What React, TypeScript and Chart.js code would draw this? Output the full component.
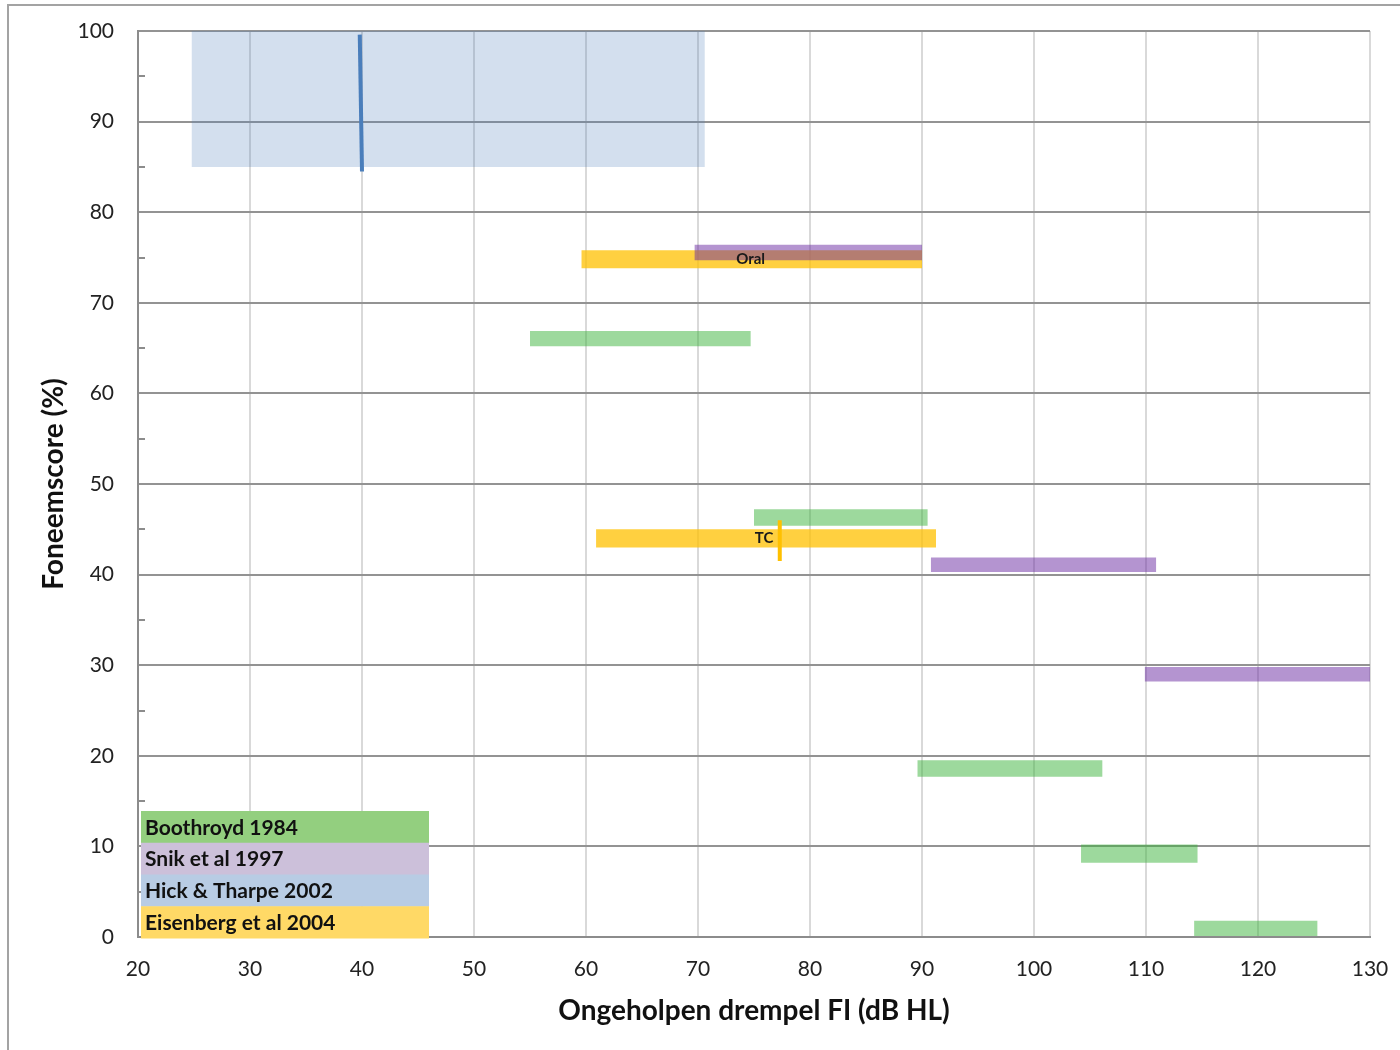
import React, { useEffect, useRef } from 'react';
import { Chart, registerables } from 'chart.js';

Chart.register(...registerables);

const FONT = 'Lato, "Open Sans", "DejaVu Sans", sans-serif';

// ---- legend / studies ----
const studies = ['Boothroyd 1984', 'Snik et al 1997', 'Hick & Tharpe 2002', 'Eisenberg et al 2004'];
const legendColors = ['#93cf7f', '#ccc0da', '#b8cce4', '#ffd966'];

// ---- axes ----
const xTicks = [20, 30, 40, 50, 60, 70, 80, 90, 100, 110, 120, 130];
const yTicks = [0, 10, 20, 30, 40, 50, 60, 70, 80, 90, 100];
const yMinorTicks = [5, 15, 25, 35, 45, 55, 65, 75, 85, 95];

// ---- Boothroyd 1984 (green ranges) ----
const boothroydFrom = [55.0, 75.0, 89.6, 104.2, 114.3];
const boothroydTo = [74.7, 90.5, 106.1, 114.6, 125.3];
const boothroydLow = [65.2, 45.4, 17.7, 8.2, 0.1];
const boothroydHigh = [66.9, 47.2, 19.5, 10.2, 1.8];

// ---- Snik et al 1997 (purple ranges) ----
const snikFrom = [69.7, 90.8, 109.9];
const snikTo = [90.0, 110.9, 130.0];
const snikLow = [74.7, 40.3, 28.2];
const snikHigh = [76.4, 41.9, 29.8];

// ---- Hick & Tharpe 2002 (blue area + line) ----
const hickFrom = [24.8];
const hickTo = [70.6];
const hickLow = [85.0];
const hickHigh = [100.5];
const hickLineX = [39.8, 40.0];
const hickLineY = [99.6, 84.5];

// ---- Eisenberg et al 2004 (yellow ranges + marker) ----
const eisenFrom = [59.6, 60.9];
const eisenTo = [90.0, 91.25];
const eisenLow = [73.8, 43.0];
const eisenHigh = [75.8, 45.0];
const eisenLineX = [77.3, 77.3];
const eisenLineY = [46.0, 41.5];

// ---- annotations ----
const noteText = ['Oral', 'TC'];
const noteX = [74.7, 75.9];
const noteY = [74.8, 44.0];

function rectPoints(x0: number, x1: number, y0: number, y1: number) {
  return [
    { x: x0, y: y0 },
    { x: x1, y: y0 },
    { x: x1, y: y1 },
    { x: x0, y: y1 },
    { x: x0, y: y0 },
  ];
}

function rectSets(label: string, from: number[], to: number[], low: number[], high: number[], color: string, order: number) {
  return from.map((f, i) => ({
    label,
    data: rectPoints(f, to[i], low[i], high[i]),
    backgroundColor: color,
    borderColor: 'rgba(0,0,0,0)',
    borderWidth: 0,
    pointRadius: 0,
    fill: 'shape',
    order,
    clip: false,
  }));
}

function lineSet(label: string, xs: number[], ys: number[], color: string, order: number) {
  return {
    label,
    data: xs.map((x, i) => ({ x, y: ys[i] })),
    borderColor: color,
    backgroundColor: color,
    borderWidth: 4,
    pointRadius: 0,
    fill: false,
    order,
    clip: false,
  };
}

const framePlugin = {
  id: 'frame',
  beforeDraw(chart: any) {
    const { ctx, width, height } = chart;
    ctx.save();
    ctx.fillStyle = '#ffffff';
    ctx.fillRect(0, 0, width, height);
    ctx.strokeStyle = '#a3a3a3';
    ctx.lineWidth = 2;
    ctx.beginPath();
    ctx.moveTo(8, height);
    ctx.lineTo(8, 5);
    ctx.lineTo(width, 5);
    ctx.stroke();
    ctx.restore();
  },
  beforeDatasetsDraw(chart: any) {
    const { ctx, chartArea, scales } = chart;
    ctx.save();
    ctx.strokeStyle = '#8c8c8c';
    ctx.lineWidth = 2;
    yMinorTicks.forEach((v) => {
      const y = Math.round(scales.y.getPixelForValue(v));
      ctx.beginPath();
      ctx.moveTo(chartArea.left, y);
      ctx.lineTo(chartArea.left + 7, y);
      ctx.stroke();
    });
    ctx.restore();
  },
  afterDatasetsDraw(chart: any) {
    const { ctx, chartArea, scales } = chart;
    ctx.save();
    // legend table
    const left = chartArea.left + 3;
    const w = 288;
    const rowH = 31.75;
    const top = chartArea.bottom + 1 - rowH * studies.length;
    studies.forEach((s, i) => {
      const y = top + i * rowH;
      ctx.fillStyle = legendColors[i];
      ctx.fillRect(left, y, w, rowH + 0.5);
      ctx.fillStyle = '#111111';
      ctx.font = `bold 21px ${FONT}`;
      ctx.textAlign = 'left';
      ctx.textBaseline = 'middle';
      ctx.fillText(s, left + 4, y + rowH / 2 + 1);
    });
    // annotations
    ctx.font = `bold 15px ${FONT}`;
    ctx.textAlign = 'center';
    ctx.textBaseline = 'middle';
    ctx.fillStyle = '#1a1a1a';
    noteText.forEach((t, i) => {
      ctx.fillText(t, scales.x.getPixelForValue(noteX[i]), scales.y.getPixelForValue(noteY[i]));
    });
    ctx.restore();
  },
};

function resetPadding(s: any) {
  s.paddingTop = 0;
  s.paddingBottom = 0;
  s.paddingLeft = 0;
  s.paddingRight = 0;
}

export default function App() {
  const ref = useRef<HTMLCanvasElement>(null);

  useEffect(() => {
    const datasets: any[] = [
      lineSet('Hick & Tharpe 2002', hickLineX, hickLineY, '#4a7ebb', 0),
      lineSet('Eisenberg et al 2004', eisenLineX, eisenLineY, '#ffc000', 0),
      ...rectSets('Snik et al 1997', snikFrom, snikTo, snikLow, snikHigh, 'rgba(105,41,161,0.5)', 1),
      ...rectSets('Eisenberg et al 2004', eisenFrom, eisenTo, eisenLow, eisenHigh, 'rgba(255,192,0,0.75)', 2),
      ...rectSets('Boothroyd 1984', boothroydFrom, boothroydTo, boothroydLow, boothroydHigh, 'rgba(60,180,60,0.5)', 3),
      ...rectSets('Hick & Tharpe 2002', hickFrom, hickTo, hickLow, hickHigh, 'rgba(79,129,189,0.25)', 4),
    ];

    const chart = new Chart(ref.current as HTMLCanvasElement, {
      type: 'line',
      data: { datasets },
      plugins: [framePlugin],
      options: {
        responsive: false,
        devicePixelRatio: 1,
        animation: false,
        events: [],
        layout: { padding: { left: 0, top: 31, right: 30, bottom: 0 } },
        plugins: {
          legend: { display: false },
          tooltip: { enabled: false },
          filler: { propagate: false },
        },
        scales: {
          x: {
            type: 'linear',
            min: 20,
            max: 130,
            afterBuildTicks: (s: any) => {
              s.ticks = xTicks.map((v) => ({ value: v }));
            },
            afterFit: (s: any) => {
              s.height = 113;
              resetPadding(s);
            },
            ticks: {
              padding: 20,
              color: '#222222',
              autoSkip: false,
              maxRotation: 0,
              font: { family: FONT, size: 21 },
            },
            grid: { color: '#d9d9d9', lineWidth: 2, drawTicks: false },
            border: { color: '#8c8c8c', width: 2 },
            title: {
              display: true,
              text: 'Ongeholpen drempel FI (dB HL)',
              color: '#111111',
              font: { family: FONT, size: 28, weight: 'bold' },
              padding: { top: 0, bottom: 22 },
            },
          },
          y: {
            type: 'linear',
            min: 0,
            max: 100,
            afterBuildTicks: (s: any) => {
              s.ticks = yTicks.map((v) => ({ value: v }));
            },
            afterFit: (s: any) => {
              s.width = 138;
              resetPadding(s);
            },
            ticks: {
              padding: 24,
              color: '#222222',
              autoSkip: false,
              font: { family: FONT, size: 21 },
            },
            grid: { color: '#939393', lineWidth: 2, drawTicks: false },
            border: { color: '#8c8c8c', width: 2 },
            title: {
              display: true,
              text: 'Foneemscore (%)',
              color: '#111111',
              font: { family: FONT, size: 28, weight: 'bold' },
              padding: { top: 37, bottom: 0 },
            },
          },
        },
      } as any,
    });

    let alive = true;
    if ((document as any).fonts && (document as any).fonts.ready) {
      (document as any).fonts.ready.then(() => {
        if (alive) chart.update();
      });
    }
    return () => {
      alive = false;
      chart.destroy();
    };
  }, []);

  return (
    <div style={{ position: 'absolute', left: 0, top: 0, width: 1400, height: 1050 }}>
      <canvas ref={ref} width={1400} height={1050} style={{ display: 'block', width: 1400, height: 1050 }} />
    </div>
  );
}
